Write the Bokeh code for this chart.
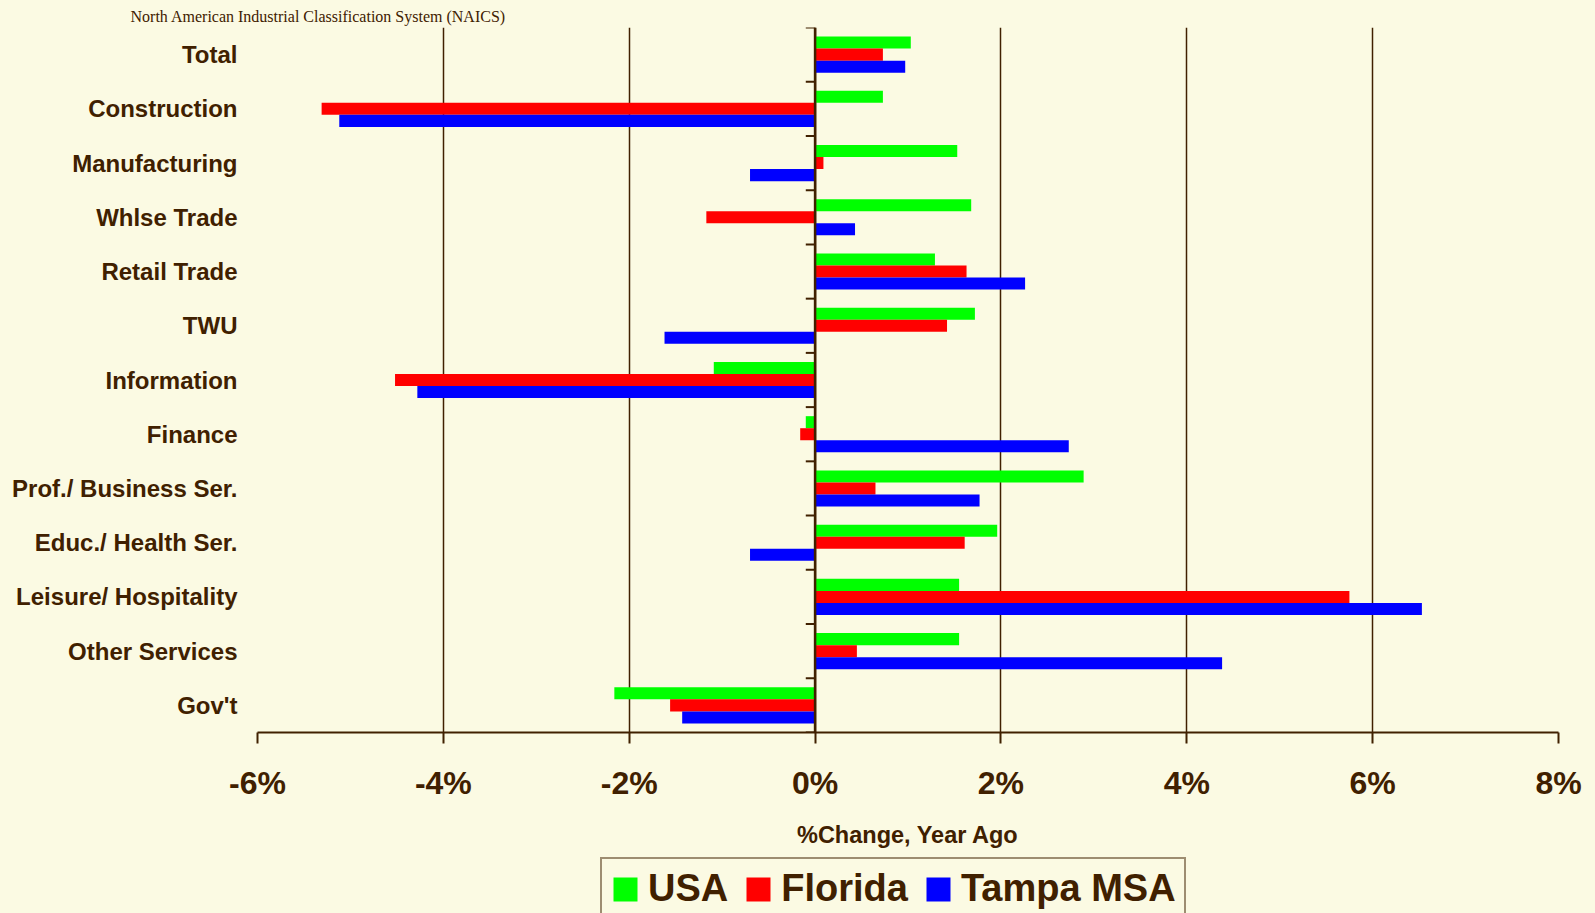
from bokeh.plotting import figure
from bokeh.layouts import column
from bokeh.models import (FactorRange, Range1d, FixedTicker, PrintfTickFormatter,
                          Span, Title, Legend, LegendItem, ColumnDataSource)
from bokeh.transform import dodge
from bokeh.embed import file_html
from bokeh.resources import INLINE

categories = ["Total", "Construction", "Manufacturing", "Whlse Trade", "Retail Trade", "TWU",
              "Information", "Finance", "Prof./ Business Ser.", "Educ./ Health Ser.",
              "Leisure/ Hospitality", "Other Services", "Gov't"]
usa = [1.03, 0.73, 1.53, 1.68, 1.29, 1.72, -1.09, -0.10, 2.89, 1.96, 1.55, 1.55, -2.16]
florida = [0.73, -5.31, 0.09, -1.17, 1.63, 1.42, -4.52, -0.16, 0.65, 1.61, 5.75, 0.45, -1.56]
tampa = [0.97, -5.12, -0.70, 0.43, 2.26, -1.62, -4.28, 2.73, 1.77, -0.70, 6.53, 4.38, -1.43]
x_ticks = [-6, -4, -2, 0, 2, 4, 6, 8]
series_keys = ["usa", "florida", "tampa"]
series_names = ["USA", "Florida", "Tampa MSA"]
series_colors = ["#00FF00", "#FF0000", "#0000FF"]

BG = "#FBFAE3"
INK = "#402000"
SANS = "Liberation Sans"

src = ColumnDataSource(dict(cat=categories, usa=usa, florida=florida, tampa=tampa))

fig = figure(width=1595, height=850, output_backend="svg", toolbar_location=None,
             y_range=FactorRange(*reversed(categories)), x_range=Range1d(-6, 8))
fig.min_border_left = 257
fig.min_border_right = 37
fig.min_border_top = 27
fig.min_border_bottom = 116
fig.background_fill_color = None
fig.border_fill_color = BG
fig.outline_line_color = None

bw = 0.222
for key, off, col in zip(series_keys, [bw, 0, -bw], series_colors):
    fig.hbar(y=dodge("cat", off, range=fig.y_range), right=key, left=0, height=bw,
             source=src, fill_color=col, line_color=None)

# grid
fig.ygrid.grid_line_color = None
fig.xgrid.grid_line_color = INK
fig.xgrid.grid_line_width = 1.5
fig.xgrid.ticker = FixedTicker(ticks=x_ticks)

# x axis
xa = fig.xaxis[0]
xa.ticker = FixedTicker(ticks=x_ticks)
xa.formatter = PrintfTickFormatter(format="%d%%")
xa.axis_line_color = INK
xa.axis_line_width = 2
xa.major_tick_line_color = INK
xa.major_tick_line_width = 2
xa.major_tick_out = 11
xa.major_tick_in = 0
xa.minor_tick_line_color = None
xa.major_label_standoff = 21
xa.major_label_text_font = SANS
xa.major_label_text_font_style = "bold"
xa.major_label_text_font_size = "32px"
xa.major_label_text_color = INK
xa.axis_label = "%Change, Year Ago"
xa.axis_label_text_font = SANS
xa.axis_label_text_font_style = "bold"
xa.axis_label_text_font_size = "23.5px"
xa.axis_label_text_color = INK
xa.axis_label_standoff = 18

# y axis
ya = fig.yaxis[0]
ya.axis_line_color = None
ya.major_tick_line_color = None
ya.minor_tick_line_color = None
ya.major_tick_out = 0
ya.major_tick_in = 0
ya.major_label_standoff = 20
ya.major_label_text_font = SANS
ya.major_label_text_font_style = "bold"
ya.major_label_text_font_size = "24px"
ya.major_label_text_color = INK

# zero line with category separator ticks
fig.add_layout(Span(location=0, dimension="height", line_color=INK, line_width=2.5))
bounds = list(range(len(categories) + 1))
fig.segment(x0=[-0.1] * len(bounds), x1=[0] * len(bounds), y0=bounds, y1=bounds,
            line_color=INK, line_width=2)

# header text
fig.add_layout(Title(text="North American Industrial Classification System (NAICS)",
                     align="left", offset=-127, standoff=6,
                     text_font="Liberation Serif", text_font_size="16px",
                     text_font_style="normal", text_color=INK), "above")

# legend strip (separate figure so that it is not clipped by the chart frame)
leg = figure(width=1595, height=63, output_backend="svg", toolbar_location=None,
             x_axis_type=None, y_axis_type=None, min_border=0,
             y_range=FactorRange("legend"), x_range=Range1d(-6, 8))
leg.background_fill_color = None
leg.border_fill_color = BG
leg.outline_line_color = None
leg.grid.grid_line_color = None
items = []
for key, name, col in zip(series_keys, series_names, series_colors):
    r = leg.hbar(y="cat", right=key, left=0, height=bw, source=src,
                 fill_color=col, line_color=None)
    items.append(LegendItem(label=name, renderers=[r]))

legend = Legend(items=items, orientation="horizontal", location=(343, -7))
legend.border_line_color = INK
legend.border_line_width = 2
legend.background_fill_color = BG
legend.background_fill_alpha = 1
legend.padding = 8
legend.spacing = 15
legend.label_standoff = 8
legend.glyph_width = 30
legend.glyph_height = 30
legend.margin = 0
legend.label_text_font = SANS
legend.label_text_font_style = "bold"
legend.label_text_font_size = "38px"
legend.label_text_color = INK
leg.add_layout(legend, "center")

p = column(fig, leg, spacing=0, styles={"background-color": BG})
open("out.html", "w").write(file_html(p, INLINE))
